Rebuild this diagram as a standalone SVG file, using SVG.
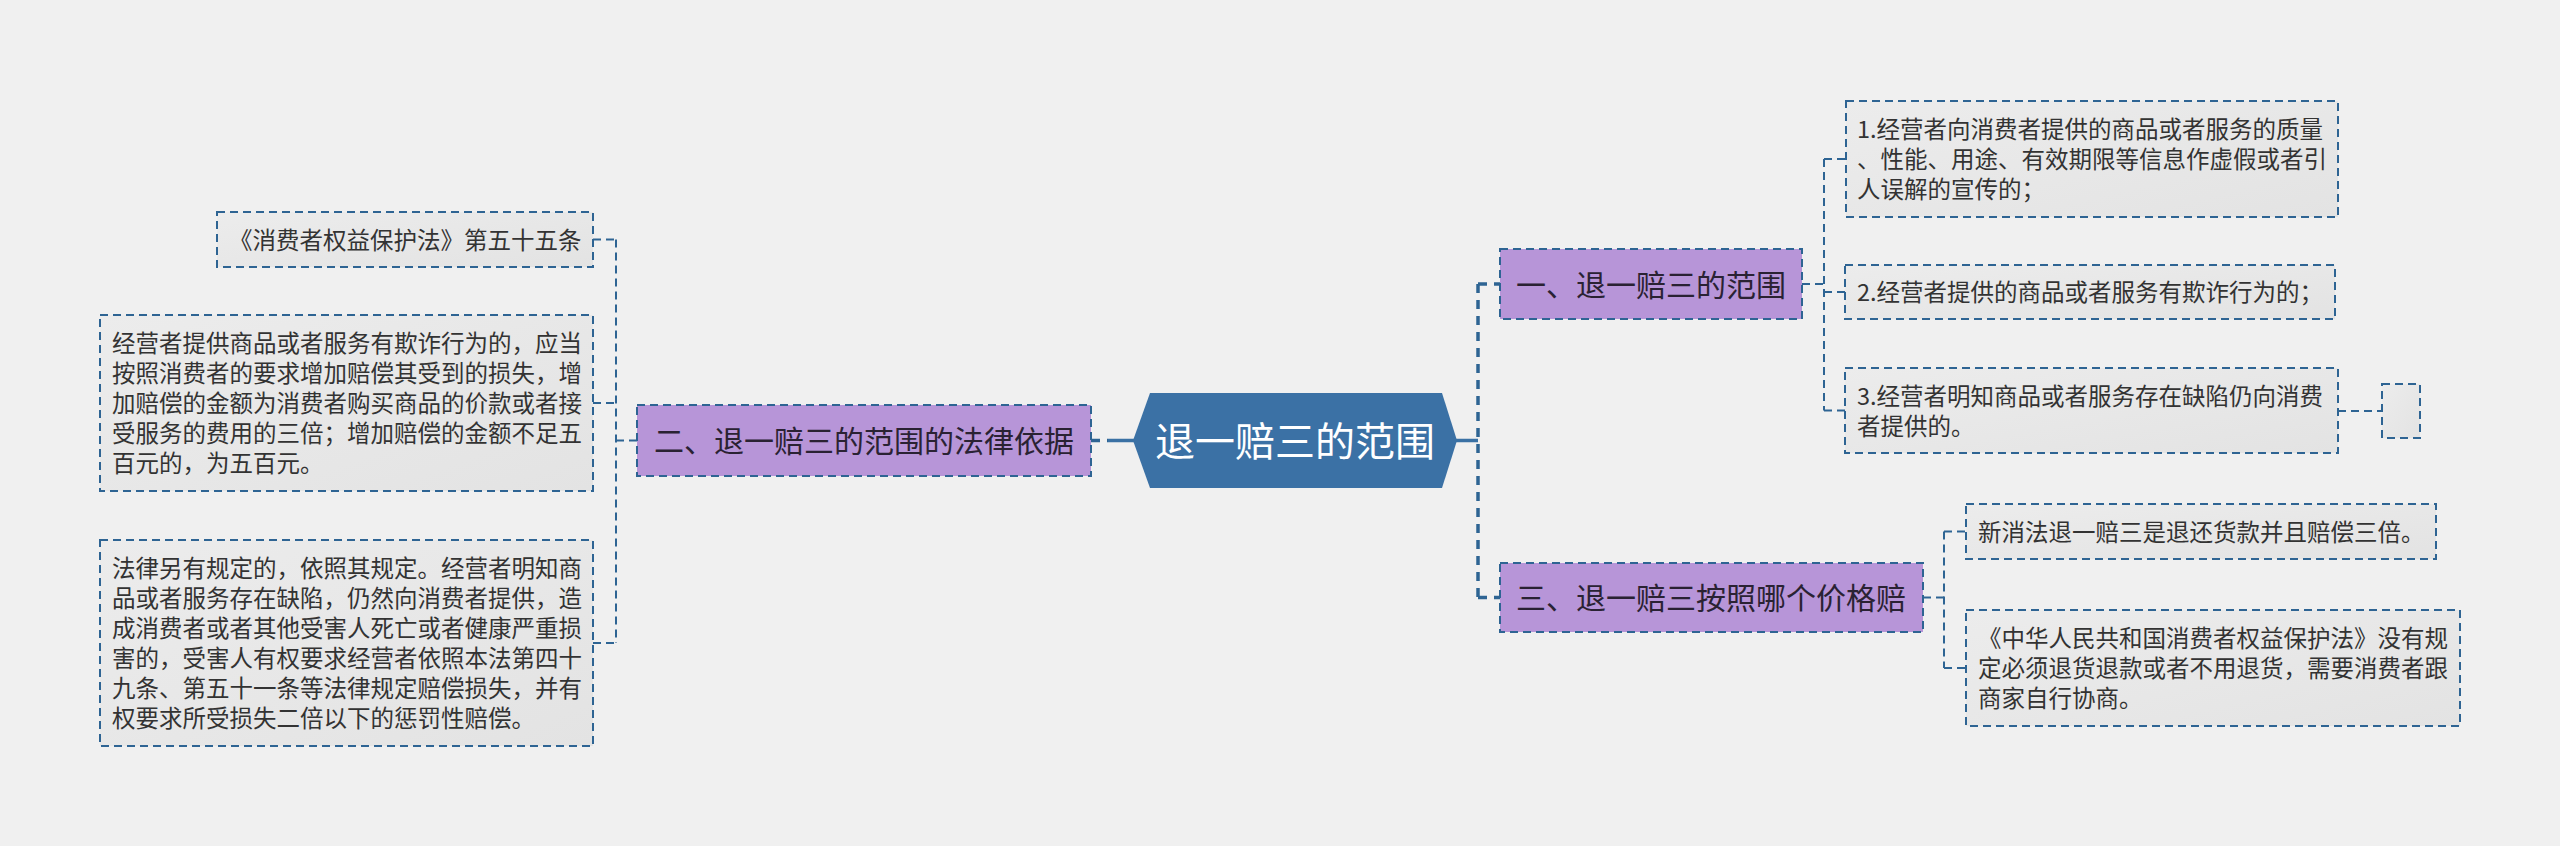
<svg xmlns="http://www.w3.org/2000/svg" width="2560" height="846" viewBox="0 0 2560 846">
<defs>
<linearGradient id="leafg" x1="0" y1="0" x2="1" y2="1">
<stop offset="0" stop-color="#ececec"/>
<stop offset="1" stop-color="#e3e3e3"/>
</linearGradient>
<style>
.leaf{fill:url(#leafg);stroke:#2e6493;stroke-width:2;stroke-dasharray:8 5}
.sub{fill:#b795d8;stroke:#2e6493;stroke-width:2;stroke-dasharray:8 5}
.lt{font-family:"Noto Sans CJK SC","Noto Sans",sans-serif;font-size:23.5px;fill:#333333}
.st{font-family:"Noto Sans CJK SC","Noto Sans",sans-serif;font-size:30px;fill:#2a2233}
.ct{font-family:"Noto Sans CJK SC","Noto Sans",sans-serif;font-size:40px;fill:#ffffff}
.c2{fill:none;stroke:#2e6493;stroke-width:2;stroke-dasharray:8 5}
.c3{fill:none;stroke:#2e6493;stroke-width:3.5;stroke-dasharray:9 7}
.cs{fill:none;stroke:#3a71a4;stroke-width:3.5}
</style>
</defs>
<rect width="2560" height="846" fill="#f0f0f0"/>
<g id="connectors">
<line class="cs" x1="1108" y1="440.5" x2="1134" y2="440.5"/>
<line class="c3" x1="1091" y1="440.5" x2="1108" y2="440.5"/>
<line class="c2" x1="616" y1="440.5" x2="637" y2="440.5"/>
<line class="c2" x1="616" y1="239.5" x2="616" y2="643"/>
<line class="c2" x1="593" y1="239.5" x2="616" y2="239.5"/>
<line class="c2" x1="593" y1="403" x2="616" y2="403"/>
<line class="c2" x1="593" y1="643" x2="616" y2="643"/>
<line class="cs" x1="1456" y1="440.5" x2="1478" y2="440.5"/>
<line class="c3" x1="1478" y1="284" x2="1478" y2="597.5"/>
<line class="c3" x1="1478" y1="284" x2="1500" y2="284"/>
<line class="c3" x1="1478" y1="597.5" x2="1500" y2="597.5"/>
<line class="c2" x1="1802" y1="284" x2="1824" y2="284"/>
<line class="c2" x1="1824" y1="159" x2="1824" y2="410.5"/>
<line class="c2" x1="1824" y1="159" x2="1846" y2="159"/>
<line class="c2" x1="1824" y1="292" x2="1845" y2="292"/>
<line class="c2" x1="1824" y1="410.5" x2="1845" y2="410.5"/>
<line class="c2" x1="2338" y1="411" x2="2382" y2="411"/>
<line class="c2" x1="1923" y1="597.5" x2="1944" y2="597.5"/>
<line class="c2" x1="1944" y1="531.5" x2="1944" y2="668"/>
<line class="c2" x1="1944" y1="531.5" x2="1966" y2="531.5"/>
<line class="c2" x1="1944" y1="668" x2="1966" y2="668"/>
</g>
<g id="root">
<polygon points="1133,440.5 1150,393 1442,393 1457,440.5 1442,488 1150,488" fill="#3b71a5"/>
<text class="ct" x="1295" y="455.5" text-anchor="middle">退一赔三的范围</text>
</g>
<g id="n2">
<rect class="sub" x="637" y="405" width="454" height="71"/>
<text class="st" x="654" y="452">二、退一赔三的范围的法律依据</text>
</g>
<g id="n2a">
<rect class="leaf" x="217" y="212" width="376" height="55"/>
<text class="lt" x="229" y="248.5">《消费者权益保护法》第五十五条</text>
</g>
<g id="n2b">
<rect class="leaf" x="100" y="315" width="493" height="176"/>
<text class="lt" x="112" y="352">经营者提供商品或者服务有欺诈行为的，应当</text>
<text class="lt" x="112" y="382">按照消费者的要求增加赔偿其受到的损失，增</text>
<text class="lt" x="112" y="412">加赔偿的金额为消费者购买商品的价款或者接</text>
<text class="lt" x="112" y="442">受服务的费用的三倍；增加赔偿的金额不足五</text>
<text class="lt" x="112" y="472">百元的，为五百元。</text>
</g>
<g id="n2c">
<rect class="leaf" x="100" y="540" width="493" height="206"/>
<text class="lt" x="112" y="577">法律另有规定的，依照其规定。经营者明知商</text>
<text class="lt" x="112" y="607">品或者服务存在缺陷，仍然向消费者提供，造</text>
<text class="lt" x="112" y="637">成消费者或者其他受害人死亡或者健康严重损</text>
<text class="lt" x="112" y="667">害的，受害人有权要求经营者依照本法第四十</text>
<text class="lt" x="112" y="697">九条、第五十一条等法律规定赔偿损失，并有</text>
<text class="lt" x="112" y="727">权要求所受损失二倍以下的惩罚性赔偿。</text>
</g>
<g id="n1">
<rect class="sub" x="1500" y="249" width="302" height="70"/>
<text class="st" x="1516" y="295.5">一、退一赔三的范围</text>
</g>
<g id="n1a">
<rect class="leaf" x="1846" y="101" width="492" height="116"/>
<text class="lt" x="1857" y="138">1.经营者向消费者提供的商品或者服务的质量</text>
<text class="lt" x="1857" y="168">、性能、用途、有效期限等信息作虚假或者引</text>
<text class="lt" x="1857" y="198">人误解的宣传的；</text>
</g>
<g id="n1b">
<rect class="leaf" x="1845" y="265" width="490" height="54"/>
<text class="lt" x="1857" y="301">2.经营者提供的商品或者服务有欺诈行为的；</text>
</g>
<g id="n1c">
<rect class="leaf" x="1845" y="368" width="493" height="85"/>
<text class="lt" x="1857" y="404.5">3.经营者明知商品或者服务存在缺陷仍向消费</text>
<text class="lt" x="1857" y="434.5">者提供的。</text>
</g>
<g id="n1c1">
<rect class="leaf" x="2382" y="384" width="38" height="54"/>
</g>
<g id="n3">
<rect class="sub" x="1500" y="563" width="423" height="69"/>
<text class="st" x="1516" y="609">三、退一赔三按照哪个价格赔</text>
</g>
<g id="n3a">
<rect class="leaf" x="1966" y="504" width="470" height="55"/>
<text class="lt" x="1978" y="540.5">新消法退一赔三是退还货款并且赔偿三倍。</text>
</g>
<g id="n3b">
<rect class="leaf" x="1966" y="610" width="494" height="116"/>
<text class="lt" x="1978" y="647">《中华人民共和国消费者权益保护法》没有规</text>
<text class="lt" x="1978" y="677">定必须退货退款或者不用退货，需要消费者跟</text>
<text class="lt" x="1978" y="707">商家自行协商。</text>
</g>
</svg>
